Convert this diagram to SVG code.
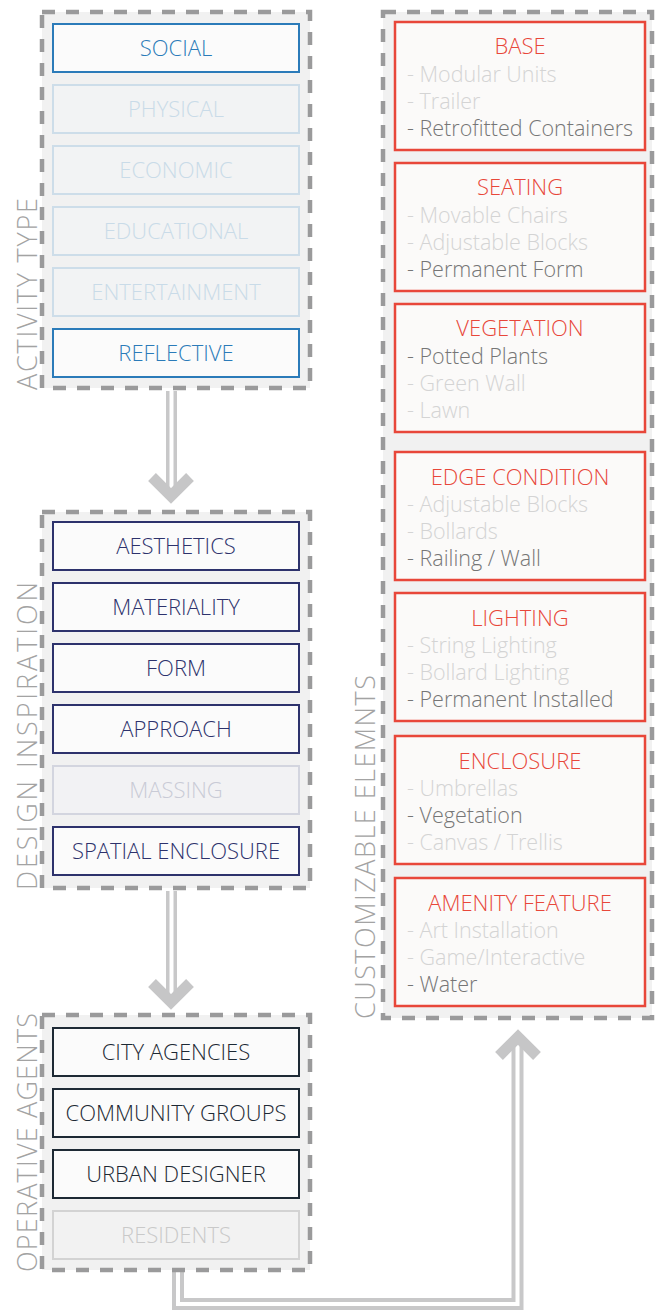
<svg xmlns="http://www.w3.org/2000/svg" width="656" height="1310" viewBox="0 0 656 1310">
  <style>
    text { font-family: "Open Sans", "Noto Sans", "Liberation Sans", sans-serif; font-weight: 300; }
    .panel { fill: #f1f1f1; stroke: #9a9a9b; stroke-width: 4.5; stroke-dasharray: 13 11; }
    .axis { font-size: 27px; fill: #a3a3a3; }
    .node rect { stroke-width: 2; }
    .lbl { font-size: 22px; text-anchor: middle; }
    .blue rect { fill: #fbfbfb; stroke: #2b7bb9; }
    .blue text { fill: #2b7bb9; }
    .blue-off rect { fill: #f2f3f4; stroke: #cddde9; }
    .blue-off text { fill: #c9dbe8; }
    .navy rect { fill: #fbfbfb; stroke: #2d326c; }
    .navy text { fill: #2d326c; }
    .navy-off rect { fill: #f2f2f4; stroke: #d3d5df; }
    .navy-off text { fill: #c9cbd6; }
    .dark rect { fill: #fbfbfb; stroke: #1d2934; }
    .dark text { fill: #1d2934; }
    .dark-off rect { fill: #f2f2f2; stroke: #d3d3d3; }
    .dark-off text { fill: #c9c9c9; }
    .elem rect { fill: #fbfaf9; stroke: #e8473a; stroke-width: 2.5; }
    .elem .ttl { font-size: 22px; fill: #e8473a; text-anchor: middle; }
    .elem .it { font-size: 21.5px; fill: #d4d4d4; }
    .elem .on { fill: #767676; }
    .rail { fill: none; stroke: #c8c8c9; stroke-width: 11; stroke-linejoin: miter; }
    .core { fill: none; stroke: #ffffff; stroke-width: 4; stroke-linejoin: miter; }
    .head { fill: none; stroke: #c6c6c7; stroke-width: 11; stroke-linejoin: miter; stroke-miterlimit: 4; }
  </style>

  <!-- connectors -->
  <g id="connectors">
    <path class="rail" d="M171.5,391 V490"/>
    <path class="core" d="M171.5,391 V490"/>
    <polyline class="head" points="152,477 171,496 190,477"/>

    <path class="rail" d="M171.5,891 V996"/>
    <path class="core" d="M171.5,891 V996"/>
    <polyline class="head" points="152,983 171,1002 190,983"/>

    <path class="rail" style="stroke-width:12" d="M178,1272 V1304 H517.5 V1045"/>
    <path class="core" d="M178,1272 V1304 H517.5 V1045"/>
    <polyline class="head" points="499,1056 518,1037 537,1056"/>
  </g>

  <!-- activity type -->
  <g id="activity-type">
    <rect class="panel" x="42" y="12" width="268" height="376"/>
    <text class="axis" transform="translate(37,390) rotate(-90)" textLength="192" lengthAdjust="spacing">ACTIVITY TYPE</text>
    <g id="social" class="node blue"><rect x="53" y="24" width="246" height="48"/><text class="lbl" x="176" y="56">SOCIAL</text></g>
    <g id="physical" class="node blue-off"><rect x="53" y="85" width="246" height="48"/><text class="lbl" x="176" y="117">PHYSICAL</text></g>
    <g id="economic" class="node blue-off"><rect x="53" y="146" width="246" height="48"/><text class="lbl" x="176" y="178">ECONOMIC</text></g>
    <g id="educational" class="node blue-off"><rect x="53" y="207" width="246" height="48"/><text class="lbl" x="176" y="239">EDUCATIONAL</text></g>
    <g id="entertainment" class="node blue-off"><rect x="53" y="268" width="246" height="48"/><text class="lbl" x="176" y="300">ENTERTAINMENT</text></g>
    <g id="reflective" class="node blue"><rect x="53" y="329" width="246" height="48"/><text class="lbl" x="176" y="361">REFLECTIVE</text></g>
  </g>

  <!-- design inspiration -->
  <g id="design-inspiration">
    <rect class="panel" x="42" y="512" width="268" height="376"/>
    <text class="axis" transform="translate(37,890) rotate(-90)" textLength="308" lengthAdjust="spacing">DESIGN INSPIRATION</text>
    <g id="aesthetics" class="node navy"><rect x="53" y="522" width="246" height="48"/><text class="lbl" x="176" y="554">AESTHETICS</text></g>
    <g id="materiality" class="node navy"><rect x="53" y="583" width="246" height="48"/><text class="lbl" x="176" y="615">MATERIALITY</text></g>
    <g id="form" class="node navy"><rect x="53" y="644" width="246" height="48"/><text class="lbl" x="176" y="676">FORM</text></g>
    <g id="approach" class="node navy"><rect x="53" y="705" width="246" height="48"/><text class="lbl" x="176" y="737">APPROACH</text></g>
    <g id="massing" class="node navy-off"><rect x="53" y="766" width="246" height="48"/><text class="lbl" x="176" y="798">MASSING</text></g>
    <g id="spatial-enclosure" class="node navy"><rect x="53" y="827" width="246" height="48"/><text class="lbl" x="176" y="859">SPATIAL ENCLOSURE</text></g>
  </g>

  <!-- operative agents -->
  <g id="operative-agents">
    <rect class="panel" x="42" y="1015" width="268" height="255"/>
    <text class="axis" transform="translate(37,1272) rotate(-90)" textLength="259" lengthAdjust="spacing">OPERATIVE AGENTS</text>
    <g id="city-agencies" class="node dark"><rect x="53" y="1028" width="246" height="48"/><text class="lbl" x="176" y="1060">CITY AGENCIES</text></g>
    <g id="community-groups" class="node dark"><rect x="53" y="1089" width="246" height="48"/><text class="lbl" x="176" y="1121">COMMUNITY GROUPS</text></g>
    <g id="urban-designer" class="node dark"><rect x="53" y="1150" width="246" height="48"/><text class="lbl" x="176" y="1182">URBAN DESIGNER</text></g>
    <g id="residents" class="node dark-off"><rect x="53" y="1211" width="246" height="48"/><text class="lbl" x="176" y="1243">RESIDENTS</text></g>
  </g>

  <!-- customizable elements -->
  <g id="customizable-elements">
    <rect class="panel" x="383" y="12" width="269" height="1006"/>
    <text class="axis" transform="translate(375,1019) rotate(-90)" textLength="344" lengthAdjust="spacing">CUSTOMIZABLE ELEMNTS</text>

    <g id="base" class="elem">
      <rect x="395" y="22" width="250" height="128"/>
      <text class="ttl" x="520" y="54">BASE</text>
      <text class="it" x="407" y="82">- Modular Units</text>
      <text class="it" x="407" y="109">- Trailer</text>
      <text class="it on" x="407" y="136">- Retrofitted Containers</text>
    </g>
    <g id="seating" class="elem">
      <rect x="395" y="163" width="250" height="128"/>
      <text class="ttl" x="520" y="195">SEATING</text>
      <text class="it" x="407" y="223">- Movable Chairs</text>
      <text class="it" x="407" y="250">- Adjustable Blocks</text>
      <text class="it on" x="407" y="277">- Permanent Form</text>
    </g>
    <g id="vegetation" class="elem">
      <rect x="395" y="304" width="250" height="128"/>
      <text class="ttl" x="520" y="336">VEGETATION</text>
      <text class="it on" x="407" y="364">- Potted Plants</text>
      <text class="it" x="407" y="391">- Green Wall</text>
      <text class="it" x="407" y="418">- Lawn</text>
    </g>
    <g id="edge-condition" class="elem">
      <rect x="395" y="452" width="250" height="128"/>
      <text class="ttl" x="520" y="485">EDGE CONDITION</text>
      <text class="it" x="407" y="512">- Adjustable Blocks</text>
      <text class="it" x="407" y="539">- Bollards</text>
      <text class="it on" x="407" y="566">- Railing / Wall</text>
    </g>
    <g id="lighting" class="elem">
      <rect x="395" y="593" width="250" height="128"/>
      <text class="ttl" x="520" y="626">LIGHTING</text>
      <text class="it" x="407" y="653">- String Lighting</text>
      <text class="it" x="407" y="680">- Bollard Lighting</text>
      <text class="it on" x="407" y="707">- Permanent Installed</text>
    </g>
    <g id="enclosure" class="elem">
      <rect x="395" y="736" width="250" height="128"/>
      <text class="ttl" x="520" y="769">ENCLOSURE</text>
      <text class="it" x="407" y="796">- Umbrellas</text>
      <text class="it on" x="407" y="823">- Vegetation</text>
      <text class="it" x="407" y="850">- Canvas / Trellis</text>
    </g>
    <g id="amenity-feature" class="elem">
      <rect x="395" y="878" width="250" height="128"/>
      <text class="ttl" x="520" y="911">AMENITY FEATURE</text>
      <text class="it" x="407" y="938">- Art Installation</text>
      <text class="it" x="407" y="965">- Game/Interactive</text>
      <text class="it on" x="407" y="992">- Water</text>
    </g>
  </g>
</svg>
